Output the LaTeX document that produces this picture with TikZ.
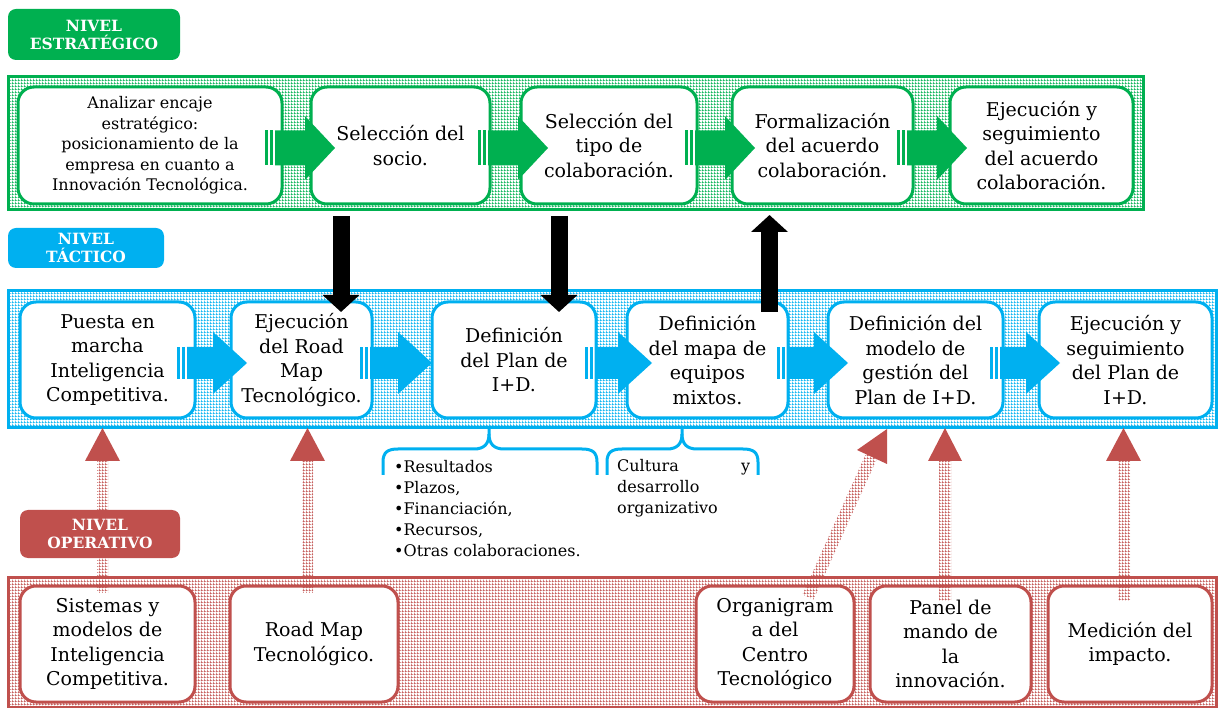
\documentclass[tikz,border=0pt]{standalone}
\usepackage{fontspec}
\setmainfont{DejaVu Serif}
\usetikzlibrary{patterns,arrows.meta,calc}

\definecolor{estr}{HTML}{00B050}
\definecolor{tact}{HTML}{00B0F0}
\definecolor{oper}{HTML}{C0504D}

% fine square mesh used for the level bands and the dotted shafts
\pgfdeclarepatternformonly{finegrid}{\pgfqpoint{0pt}{0pt}}{\pgfqpoint{3pt}{3pt}}{\pgfqpoint{3pt}{3pt}}{%
  \pgfsetlinewidth{0.65pt}%
  \pgfpathmoveto{\pgfqpoint{0pt}{0.5pt}}\pgfpathlineto{\pgfqpoint{3pt}{0.5pt}}%
  \pgfpathmoveto{\pgfqpoint{0.5pt}{0pt}}\pgfpathlineto{\pgfqpoint{0.5pt}{3pt}}%
  \pgfusepath{stroke}}

% block arrow: colour, tail x, tip x, axis y, half body, half head, head length
\newcommand\flowarrow[7]{%
  \fill[#1] (#2,#4-#5) rectangle (#2+3,#4+#5);
  \fill[#1] (#2+5,#4-#5) rectangle (#2+8,#4+#5);
  \fill[#1] (#2+10,#4-#5) -- (#3-#7,#4-#5) -- (#3-#7,#4-#6) -- (#3,#4)
            -- (#3-#7,#4+#6) -- (#3-#7,#4+#5) -- (#2+10,#4+#5) -- cycle;}

\tikzset{
  band/.style={draw=#1, line width=3pt, pattern=finegrid, pattern color=#1},
  stepbox/.style={draw=#1, line width=3pt, fill=white, rounded corners=16pt,
    align=center, inner sep=0pt, font=\fontsize{19}{24.5}\selectfont},
  lvl/.style={fill=#1, rounded corners=8pt, text=white, align=center,
    inner sep=0pt, font=\bfseries\fontsize{15.5}{18}\selectfont},
  brace/.style={draw=tact, line width=3pt},
  note/.style={anchor=north west, align=left, inner sep=0pt,
    font=\fontsize{16}{21}\selectfont},
  blk/.style={line width=17pt, -{Triangle[width=36pt,length=17pt]}},
  shaft/.style={pattern=finegrid, pattern color=oper},
}

\begin{document}
\begin{tikzpicture}[x=1pt,y=-1pt]
\useasboundingbox (0,0) rectangle (1219,708);

% level bands
\path[band=estr] (8,77) rectangle (1143,210);
\path[band=tact] (8,291) rectangle (1216,428);
\path[band=oper] (8,577) rectangle (1216,707);

% strategic level
\node[stepbox=estr, minimum width=264, minimum height=117, font=\fontsize{16}{20.5}\selectfont] (g1) at (150,145.5)
  {Analizar encaje\\estratégico:\\posicionamiento de la\\empresa en cuanto a\\Innovación Tecnológica.};
\node[stepbox=estr, minimum width=179, minimum height=117] (g2) at (400.5,145.5) {Selección del\\socio.};
\node[stepbox=estr, minimum width=176, minimum height=117] (g3) at (609,145.5) {Selección del\\tipo de\\colaboración.};
\node[stepbox=estr, minimum width=181, minimum height=117] (g4) at (822.5,145.5) {Formalización\\del acuerdo\\colaboración.};
\node[stepbox=estr, minimum width=183, minimum height=117] (g5) at (1041.5,145.5) {Ejecución y\\seguimiento\\del acuerdo\\colaboración.};

% tactical level
\node[stepbox=tact, minimum width=175, minimum height=116] (t1) at (107.5,360) {Puesta en\\marcha\\Inteligencia\\Competitiva.};
\node[stepbox=tact, minimum width=141, minimum height=116] (t2) at (301.5,360) {Ejecución\\del Road\\Map\\Tecnológico.};
\node[stepbox=tact, minimum width=164, minimum height=116] (t3) at (514,360) {Definición\\del Plan de\\I+D.};
\node[stepbox=tact, minimum width=161, minimum height=116] (t4) at (707.5,360) {Definición\\del mapa de\\equipos\\mixtos.};
\node[stepbox=tact, minimum width=175, minimum height=116] (t5) at (915.5,360) {Definición del\\modelo de\\gestión del\\Plan de I+D.};
\node[stepbox=tact, minimum width=173, minimum height=116] (t6) at (1125.5,360) {Ejecución y\\seguimiento\\del Plan de\\I+D.};

% operative level
\node[stepbox=oper, minimum width=175, minimum height=116] (o1) at (107.5,644) {Sistemas y\\modelos de\\Inteligencia\\Competitiva.};
\node[stepbox=oper, minimum width=168, minimum height=116] (o2) at (314,644) {Road Map\\Tecnológico.};
\node[stepbox=oper, minimum width=158, minimum height=116] (o3) at (775,644) {Organigram\\a del\\Centro\\Tecnológico};
\node[stepbox=oper, minimum width=161, minimum height=116] (o4) at (950.5,644) {Panel de\\mando de\\la\\innovación.};
\node[stepbox=oper, minimum width=164, minimum height=116] (o5) at (1130,644) {Medición del\\impacto.};

% flow arrows inside the bands
\flowarrow{estr}{265}{335}{148}{17.5}{32}{30}
\flowarrow{estr}{478}{548}{148}{17.5}{32}{30}
\flowarrow{estr}{685}{755}{148}{17.5}{32}{30}
\flowarrow{estr}{897}{967}{148}{17.5}{32}{30}

\flowarrow{tact}{177}{247}{363}{16}{31}{34}
\flowarrow{tact}{360}{432}{363}{16}{31}{34}
\flowarrow{tact}{585}{652}{363}{16}{31}{34}
\flowarrow{tact}{777}{848}{363}{16}{31}{34}
\flowarrow{tact}{990}{1060}{363}{16}{31}{34}

% braces under the tactical band
\draw[brace] (383,475) -- (383,462) .. controls (383,452) and (388,449) .. (398,449)
  -- (474,449) .. controls (484,449) and (489,444) .. (489,434) -- (489,428);
\draw[brace] (489,434) .. controls (489,444) and (494,449) .. (504,449)
  -- (582,449) .. controls (592,449) and (597,452) .. (597,462) -- (597,475);
\draw[brace] (607,475) -- (607,462) .. controls (607,452) and (612,449) .. (622,449)
  -- (667,449) .. controls (677,449) and (682,444) .. (682,434) -- (682,428);
\draw[brace] (682,434) .. controls (682,444) and (687,449) .. (697,449)
  -- (743,449) .. controls (753,449) and (758,452) .. (758,462) -- (758,475);

\node[note] (plan) at (394,460)
  {•Resultados\\•Plazos,\\•Financiación,\\•Recursos,\\•Otras colaboraciones.};
\node[note] (cult) at (617,459)
  {\makebox[133pt][s]{Cultura y}\\desarrollo\\organizativo};

% dotted support arrows from the operative level
\path[shaft] (97,460) rectangle (108,592);
\fill[oper] (85,461) -- (102.5,428) -- (120,461) -- cycle;
\path[shaft] (302,460) rectangle (313,592);
\fill[oper] (290,461) -- (307.5,428) -- (325,461) -- cycle;
\path[shaft] (802.5,594.5) -- (866.5,452.5) -- (877.5,457.5) -- (813.5,599.5) -- cycle;
\fill[oper] (887,429) -- (857,450) -- (887,464) -- cycle;
\path[shaft] (939,460) rectangle (951,600);
\fill[oper] (928,461) -- (945,428) -- (962,461) -- cycle;
\path[shaft] (1118,460) rectangle (1130,600);
\fill[oper] (1106,461) -- (1123.5,428) -- (1141,461) -- cycle;

% links between strategic and tactical levels
\coordinate (k1a) at (341,216);
\coordinate (k1b) at (341,312);
\coordinate (k2a) at (559,216);
\coordinate (k2b) at (559,312);
\coordinate (k3a) at (769.5,312);
\coordinate (k3b) at (769.5,215);
\draw[blk] (k1a) -- (k1b);
\draw[blk] (k2a) -- (k2b);
\draw[blk] (k3a) -- (k3b);

% level labels
\node[lvl=estr, minimum width=172, minimum height=51] (lg) at (94,34.5) {NIVEL\\ESTRATÉGICO};
\node[lvl=tact, minimum width=156, minimum height=40] (lb) at (86,248) {NIVEL\\TÁCTICO};
\node[lvl=oper, minimum width=160, minimum height=48] (lr) at (100,534) {NIVEL\\OPERATIVO};
\end{tikzpicture}
\end{document}
